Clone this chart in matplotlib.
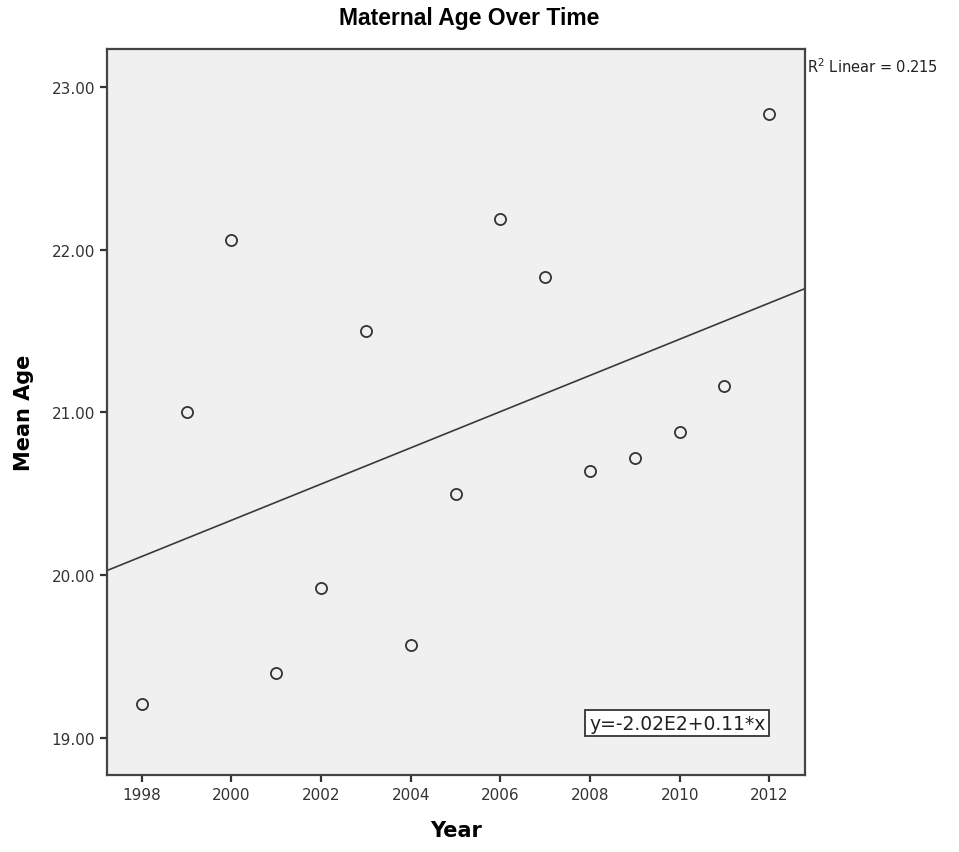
import numpy as np
import matplotlib
matplotlib.use("Agg")
import matplotlib.pyplot as plt

# mean maternal age per year
years = [1998, 1999, 2000, 2001, 2002, 2003, 2004, 2005, 2006, 2007, 2008, 2009, 2010, 2011, 2012]
mean_age = [19.21, 21.00, 22.06, 19.40, 19.92, 21.50, 19.57, 20.50, 22.19, 21.83, 20.64, 20.72, 20.88, 21.16, 22.83]
xticks = [1998, 2000, 2002, 2004, 2006, 2008, 2010, 2012]
yticks = [19.0, 20.0, 21.0, 22.0, 23.0]
r2_label = "0.215"
eq_label = "y=-2.02E2+0.11*x"

x = np.array(years, dtype=float)
y = np.array(mean_age)
slope, intercept = np.polyfit(x, y, 1)

fig = plt.figure(figsize=(9.59, 8.53), dpi=100)
ax = fig.add_axes([107 / 959, 1 - 776 / 853, 698 / 959, 726 / 853])
ax.set_facecolor("#f0f0f0")

xlim = (1997.226, 2012.796)
ax.set_xlim(xlim)
ax.set_ylim(18.775, 23.231)

# fit line across the whole plot
xl = np.array(xlim)
ax.plot(xl, intercept + slope * xl, color="#3a3a3a", lw=1.2)

ax.plot(x, y, linestyle="none", marker="o", markersize=8,
        markerfacecolor="none", markeredgecolor="#333333", markeredgewidth=1.3)

ax.set_xticks(xticks)
ax.set_yticks(yticks)
ax.set_yticklabels([f"{v:.2f}" for v in yticks])
ax.tick_params(direction="out", length=5, width=1.6, color="#333333",
               labelsize=11, labelcolor="#333333")
for s in ax.spines.values():
    s.set_color("#444444")
    s.set_linewidth(1.6)

ax.set_xlabel("Year", fontsize=15, fontweight="bold", labelpad=13)
ax.set_ylabel("Mean Age", fontsize=15, fontweight="bold", labelpad=13)

ax.text(0.817, 0.0716, eq_label, transform=ax.transAxes,
        ha="center", va="center", fontsize=13.5, color="#222222",
        bbox=dict(boxstyle="square,pad=0.2", facecolor="white",
                  edgecolor="#333333", linewidth=1.3))

fig.text(807 / 959, 1 - 67 / 853, "R$^2$ Linear = " + r2_label, fontsize=10.5,
         color="#222222", ha="left", va="center")

fig.text(469 / 959, 1 - 18 / 853, "Maternal Age Over Time", fontsize=16.5,
         fontweight="bold", family="Liberation Sans", ha="center", va="center")

fig.savefig("out.png", dpi=100)
